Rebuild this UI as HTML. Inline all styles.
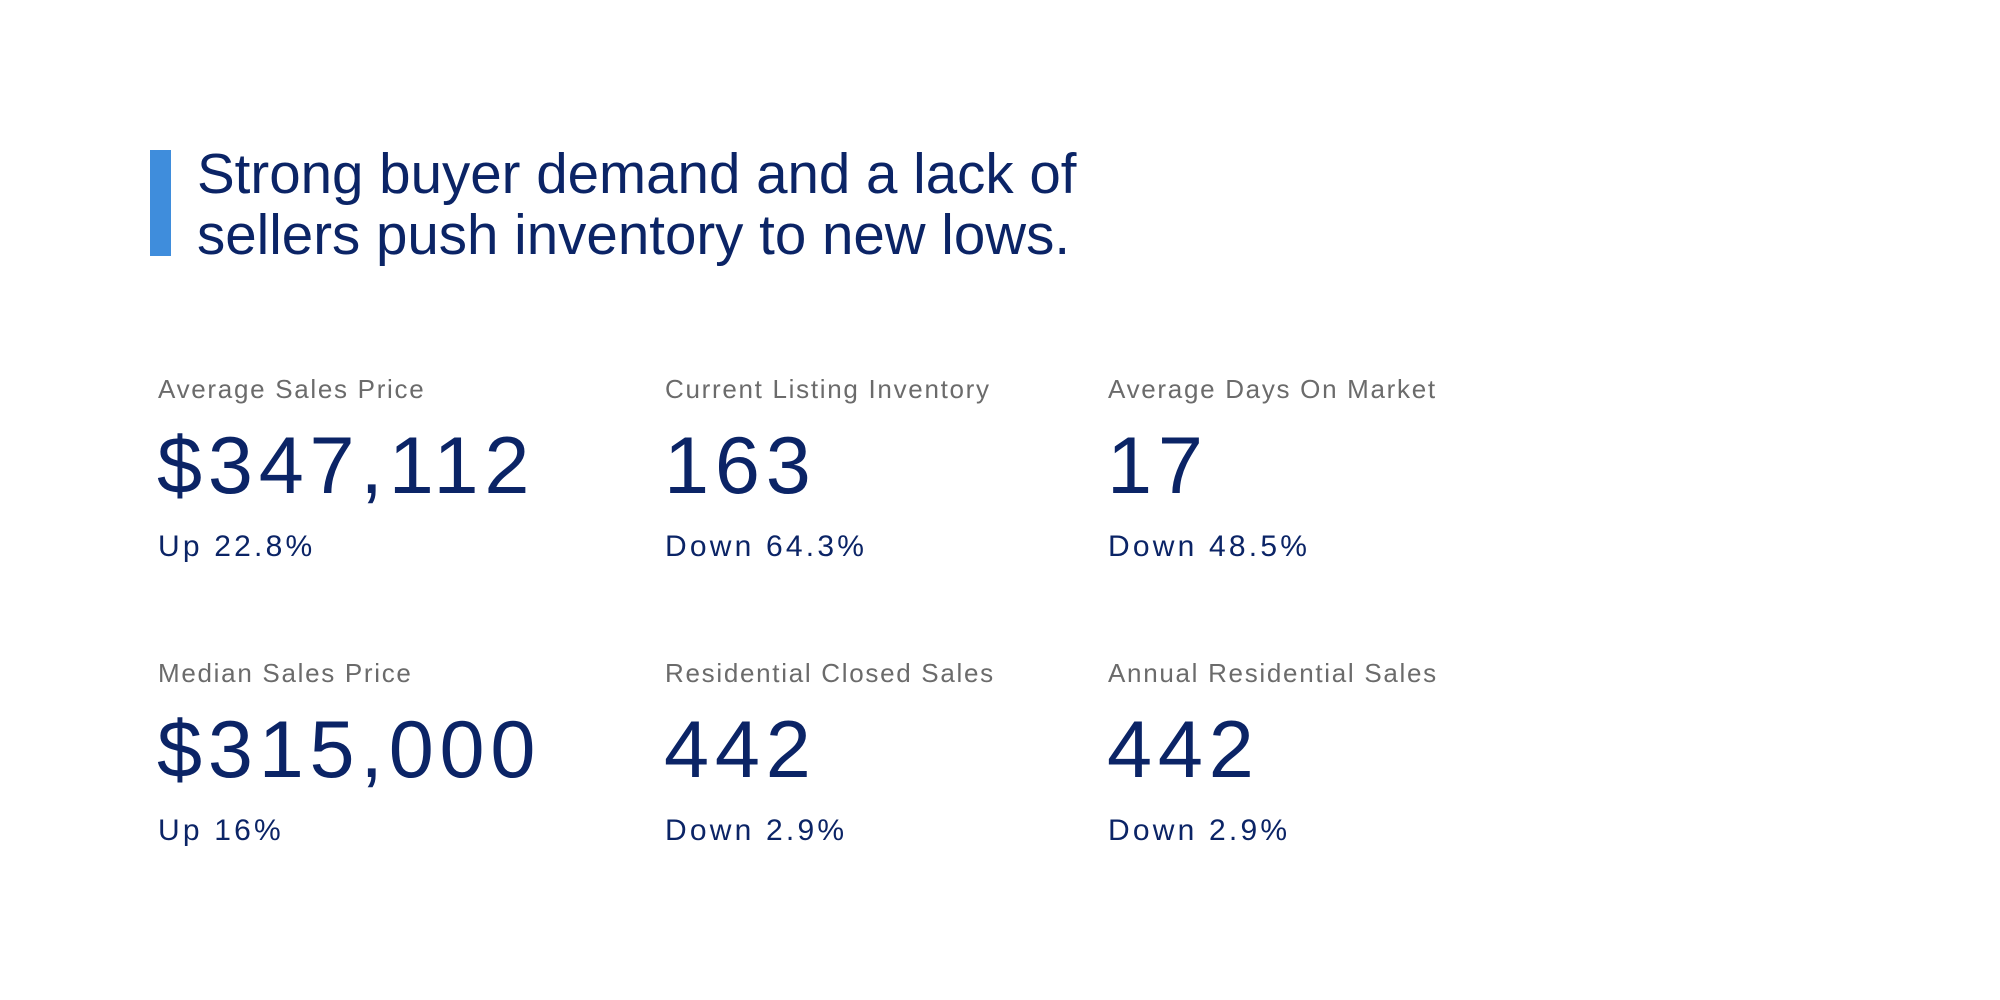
<!DOCTYPE html>
<html><head><meta charset="utf-8"><style>
body{margin:0;width:2000px;height:1000px;background:#fff;position:relative;overflow:hidden;font-family:"Liberation Sans",sans-serif;}
.a{position:absolute;white-space:nowrap;line-height:1;}
.bar{position:absolute;left:150px;top:150px;width:21px;height:106px;background:#3f8ddc;}
.t{position:absolute;left:197px;top:143px;font-size:56.5px;line-height:61px;color:#0b2466;}
.l{font-size:26px;color:#6b6b6b;letter-spacing:1.7px;}
.n{font-size:81px;color:#0b2466;letter-spacing:5.8px;}
.s{font-size:30px;color:#0b2466;letter-spacing:3.2px;}
</style></head><body>
<div class="bar"></div>
<div class="t">Strong buyer demand and a lack of<br>sellers push inventory to new lows.</div>

<div class="a l" style="left:158px;top:376px">Average Sales Price</div>
<div class="a n" style="left:157px;top:426px">$347,112</div>
<div class="a s" style="left:158px;top:532px">Up 22.8%</div>

<div class="a l" style="left:665px;top:376px">Current Listing Inventory</div>
<div class="a n" style="left:664px;top:426px">163</div>
<div class="a s" style="left:665px;top:532px">Down 64.3%</div>

<div class="a l" style="left:1108px;top:376px">Average Days On Market</div>
<div class="a n" style="left:1107px;top:426px">17</div>
<div class="a s" style="left:1108px;top:532px">Down 48.5%</div>

<div class="a l" style="left:158px;top:660px">Median Sales Price</div>
<div class="a n" style="left:157px;top:710px">$315,000</div>
<div class="a s" style="left:158px;top:816px">Up 16%</div>

<div class="a l" style="left:665px;top:660px">Residential Closed Sales</div>
<div class="a n" style="left:664px;top:710px">442</div>
<div class="a s" style="left:665px;top:816px">Down 2.9%</div>

<div class="a l" style="left:1108px;top:660px">Annual Residential Sales</div>
<div class="a n" style="left:1107px;top:710px">442</div>
<div class="a s" style="left:1108px;top:816px">Down 2.9%</div>
</body></html>
